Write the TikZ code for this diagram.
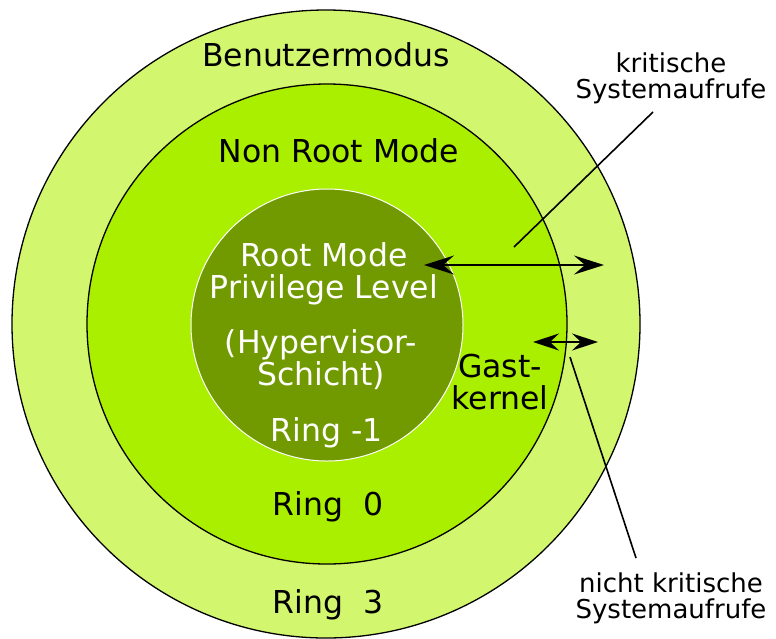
\documentclass[tikz,border=0pt]{standalone}
\usepackage{fontspec}
\setmainfont{DejaVu Sans}
\usetikzlibrary{arrows.meta}
\definecolor{outerg}{RGB}{210,246,110}
\definecolor{midg}{RGB}{170,238,0}
\definecolor{innerg}{RGB}{112,154,0}
\tikzset{
  ring/.style={circle, draw=black, line width=1.3pt, inner sep=0pt},
  big/.style={font=\fontsize{31.5}{32}\selectfont, align=center, inner sep=0pt},
  small/.style={font=\fontsize{26}{26}\selectfont, align=center, inner sep=0pt},
  dbl/.style={line width=1.8pt, {Stealth[length=30pt,width=19pt,inset=11pt]}-{Stealth[length=30pt,width=19pt,inset=11pt]}},
  dbls/.style={line width=1.8pt, {Stealth[length=26pt,width=17pt,inset=9pt]}-{Stealth[length=26pt,width=17pt,inset=9pt]}},
  lead/.style={line width=1.6pt}
}
\begin{document}
\begin{tikzpicture}[x=1pt,y=-1pt]
\useasboundingbox (0,0) rectangle (776,638);
\node[ring, fill=outerg, minimum size=628pt] (outer) at (326,324) {};
\node[ring, fill=midg, minimum size=480pt] (middle) at (327,324) {};
\node[circle, draw=white, line width=1pt, fill=innerg, minimum size=272pt, inner sep=0pt] (inner) at (327,325) {};

\node[big] (benutzer) at (326,55) {Benutzermodus};
\node[big] (nonroot) at (339,151) {Non Root Mode};
\node[big, text=white] (root) at (324,274) {Root Mode\\Privilege Level};
\node[big, text=white] (hyp) at (321,360) {(Hypervisor-\\Schicht)};
\node[big, text=white] (ringm1) at (327,433) {Ring -1};
\node[big] (gast) at (500,382) {Gast-\\kernel};
\node[big] (ring0) at (328,507) {Ring\ \ 0};
\node[big] (ring3) at (328,605) {Ring\ \ 3};
\node[small] (krit) at (671,78) {kritische\\Systemaufrufe};
\node[small] (nkrit) at (671,598) {nicht kritische\\Systemaufrufe};

\coordinate (a1) at (424,265);
\coordinate (a2) at (604,265);
\coordinate (b1) at (533,342);
\coordinate (b2) at (598,342);
\coordinate (k1) at (653,112);
\coordinate (k2) at (514,247);
\coordinate (n1) at (570,357);
\coordinate (n2) at (636,558);

\draw[dbl] (a1) -- (a2);
\draw[dbls] (b1) -- (b2);
\draw[lead] (k1) -- (k2);
\draw[lead] (n1) -- (n2);
\end{tikzpicture}
\end{document}
